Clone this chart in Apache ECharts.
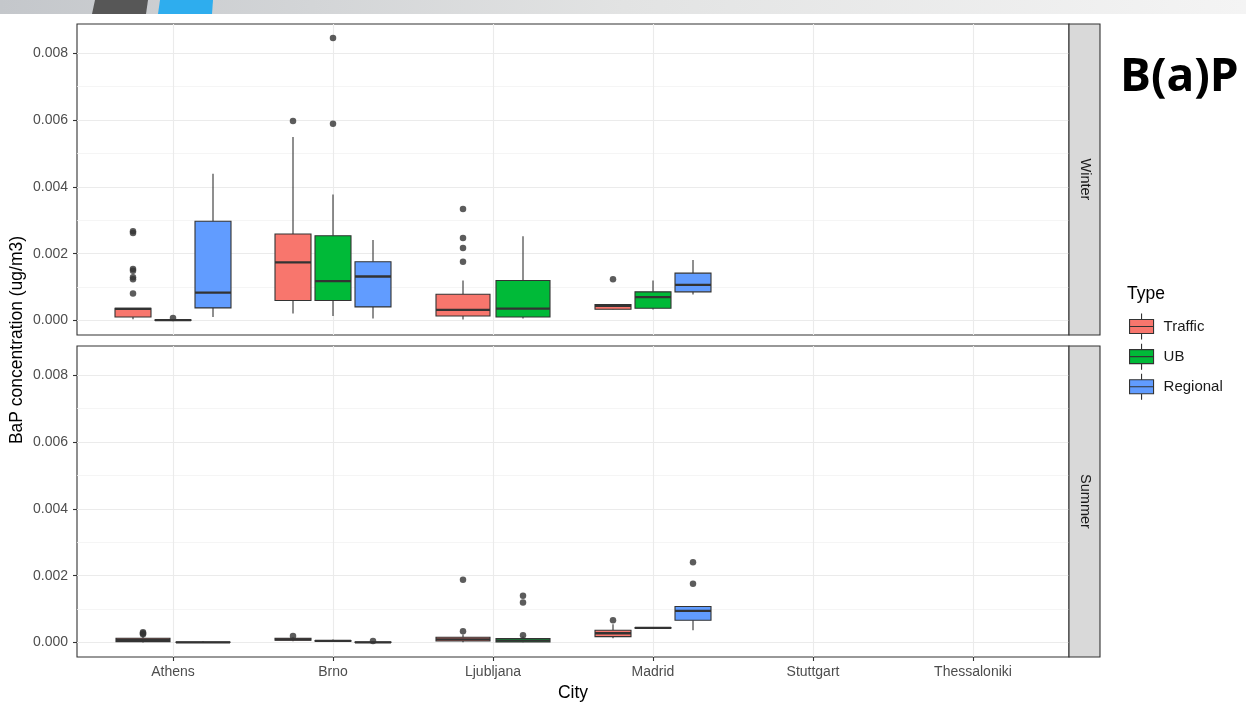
<!DOCTYPE html>
<html>
<head>
<meta charset="utf-8">
<script src="https://cdn.jsdelivr.net/npm/echarts@6/dist/echarts.min.js"></script>
<style>
html,body{margin:0;padding:0;background:#fff;}
#chart{width:1246px;height:708px;}
</style>
</head>
<body>
<div id="chart"></div>
<script>
// ---------------- data ----------------
const cities = ['Athens', 'Brno', 'Ljubljana', 'Madrid', 'Stuttgart', 'Thessaloniki'];
const types = ['Traffic', 'UB', 'Regional'];
const seasons = ['Winter', 'Summer'];
const yTicks = [0, 0.002, 0.004, 0.006, 0.008];
const yMinorTicks = [0.001, 0.003, 0.005, 0.007];

// [city, type, lower whisker, Q1, median, Q3, upper whisker]
const winterBoxes = [
  ['Athens', 'Traffic', 0.00004, 0.00011, 0.00035, 0.00037, 0.00038],
  ['Athens', 'UB', 0.000002, 0.000008, 0.000015, 0.000025, 0.00004],
  ['Athens', 'Regional', 0.00011, 0.00038, 0.00084, 0.00297, 0.00439],
  ['Brno', 'Traffic', 0.00021, 0.0006, 0.00174, 0.00259, 0.00549],
  ['Brno', 'UB', 0.00014, 0.0006, 0.00118, 0.00254, 0.00377],
  ['Brno', 'Regional', 0.00006, 0.00041, 0.00132, 0.00176, 0.00241],
  ['Ljubljana', 'Traffic', 0.00003, 0.00014, 0.00032, 0.00079, 0.0012],
  ['Ljubljana', 'UB', 0.00006, 0.00011, 0.00036, 0.0012, 0.00252],
  ['Madrid', 'Traffic', 0.00033, 0.00034, 0.00044, 0.00048, 0.00049],
  ['Madrid', 'UB', 0.00033, 0.00037, 0.0007, 0.00086, 0.0012],
  ['Madrid', 'Regional', 0.00078, 0.00086, 0.00107, 0.00142, 0.00181]
];
// [city, type, value]
const winterOutliers = [
  ['Athens', 'Traffic', 0.00267], ['Athens', 'Traffic', 0.00262],
  ['Athens', 'Traffic', 0.00154], ['Athens', 'Traffic', 0.00149],
  ['Athens', 'Traffic', 0.00130], ['Athens', 'Traffic', 0.00124],
  ['Athens', 'Traffic', 0.00081],
  ['Athens', 'UB', 0.00008],
  ['Brno', 'Traffic', 0.00597],
  ['Brno', 'UB', 0.00845], ['Brno', 'UB', 0.00589],
  ['Ljubljana', 'Traffic', 0.00334], ['Ljubljana', 'Traffic', 0.00247],
  ['Ljubljana', 'Traffic', 0.00217], ['Ljubljana', 'Traffic', 0.00176],
  ['Madrid', 'Traffic', 0.00124]
];
const summerBoxes = [
  ['Athens', 'Traffic', 0.000005, 0.00003, 0.00008, 0.00013, 0.00022],
  ['Athens', 'UB', 0.0, 0.000005, 0.00001, 0.00002, 0.00004],
  ['Brno', 'Traffic', 0.00004, 0.00007, 0.0001, 0.00013, 0.00016],
  ['Brno', 'UB', 0.00002, 0.00004, 0.00005, 0.00006, 0.00009],
  ['Brno', 'Regional', 0.0, 0.000005, 0.00001, 0.00002, 0.00003],
  ['Ljubljana', 'Traffic', 0.00001, 0.00005, 0.0001, 0.00016, 0.00024],
  ['Ljubljana', 'UB', 0.00001, 0.00002, 0.00006, 0.00012, 0.00018],
  ['Madrid', 'Traffic', 0.00013, 0.00018, 0.00028, 0.00037, 0.00055],
  ['Madrid', 'UB', 0.00042, 0.00043, 0.00044, 0.00045, 0.00046],
  ['Madrid', 'Regional', 0.00037, 0.00067, 0.00095, 0.00108, 0.00109]
];
const summerOutliers = [
  ['Athens', 'Traffic', 0.00025], ['Athens', 'Traffic', 0.00028], ['Athens', 'Traffic', 0.00031],
  ['Brno', 'Traffic', 0.0002],
  ['Brno', 'Regional', 0.00005],
  ['Ljubljana', 'Traffic', 0.00188], ['Ljubljana', 'Traffic', 0.00034],
  ['Ljubljana', 'UB', 0.0014], ['Ljubljana', 'UB', 0.0012], ['Ljubljana', 'UB', 0.00022],
  ['Madrid', 'Traffic', 0.00067],
  ['Madrid', 'Regional', 0.0024], ['Madrid', 'Regional', 0.00176]
];

// ---------------- styles ----------------
const typeColors = { Traffic: '#F8766D', UB: '#00BA38', Regional: '#619CFF' };
const FONT = 'Liberation Sans, Arial, sans-serif';
const DODGE = 0.75;      // ggplot dodge width
const PAD = 0.9;         // dodge2 padding (1 - 0.1)

// dodge positions computed from data (ggplot position_dodge2 logic)
function dodgeMap(boxes) {
  const map = {};
  cities.forEach(function (c, ci) {
    const present = types.filter(function (t) {
      return boxes.some(function (b) { return b[0] === c && b[1] === t; });
    });
    const n = present.length;
    present.forEach(function (t, i) {
      const slot = DODGE / n;
      map[c + '|' + t] = { x: ci + 1 - DODGE / 2 + slot * (i + 0.5), hw: slot * PAD / 2 };
    });
  });
  return map;
}

const panels = [
  { boxes: winterBoxes, outliers: winterOutliers },
  { boxes: summerBoxes, outliers: summerOutliers }
];

const gridTop = [24, 346];
const gridH = 311;
const gridLeft = 77;
const gridW = 992;
const Y_MIN = -0.00043, Y_MAX = 0.00887;

const grids = [], xAxes = [], yAxes = [], series = [];

function renderBox(params, api) {
  const x = api.value(0), lo = api.value(1), q1 = api.value(2), med = api.value(3),
        q3 = api.value(4), hi = api.value(5), hw = api.value(6);
  const pTop = api.coord([x, hi]), pQ3 = api.coord([x, q3]), pQ1 = api.coord([x, q1]), pLo = api.coord([x, lo]);
  const pL = api.coord([x - hw, q3]), pR = api.coord([x + hw, q1]);
  const mL = api.coord([x - hw, med]), mR = api.coord([x + hw, med]);
  const stroke = '#333333';
  return {
    type: 'group',
    children: [
      { type: 'line', shape: { x1: pQ3[0], y1: pQ3[1], x2: pTop[0], y2: pTop[1] }, style: { stroke: stroke, lineWidth: 1.1 } },
      { type: 'line', shape: { x1: pQ1[0], y1: pQ1[1], x2: pLo[0], y2: pLo[1] }, style: { stroke: stroke, lineWidth: 1.1 } },
      { type: 'rect', shape: { x: pL[0], y: pL[1], width: pR[0] - pL[0], height: pR[1] - pL[1] },
        style: { fill: api.visual('color'), stroke: stroke, lineWidth: 1.1 } },
      { type: 'line', shape: { x1: mL[0], y1: mL[1], x2: mR[0], y2: mR[1] }, style: { stroke: stroke, lineWidth: 2.3 } }
    ]
  };
}

panels.forEach(function (p, g) {
  const dm = dodgeMap(p.boxes);
  grids.push({
    left: gridLeft, top: gridTop[g], width: gridW, height: gridH,
    show: true, backgroundColor: '#ffffff', borderColor: '#333333', borderWidth: 1.1
  });
  xAxes.push({
    type: 'value', gridIndex: g, min: 0.4, max: 6.6, position: 'bottom',
    axisLine: { show: false, onZero: false },
    axisTick: { show: g === 1, length: 4, customValues: [1, 2, 3, 4, 5, 6], lineStyle: { color: '#333333', width: 1.1 } },
    axisLabel: {
      show: g === 1, customValues: [1, 2, 3, 4, 5, 6], margin: 8,
      formatter: function (v) { return cities[Math.round(v) - 1]; },
      color: '#4D4D4D', fontSize: 14, fontFamily: FONT
    },
    splitLine: { show: true, lineStyle: { color: '#EBEBEB', width: 1.1 } },
    name: g === 1 ? 'City' : '', nameLocation: 'middle', nameGap: 27,
    nameTextStyle: { color: '#000000', fontSize: 17.5, fontFamily: FONT }
  });
  // main y axis
  yAxes.push({
    type: 'value', gridIndex: g, min: Y_MIN, max: Y_MAX, position: 'left',
    axisLine: { show: false, onZero: false },
    axisTick: { show: true, length: 4, customValues: yTicks, lineStyle: { color: '#333333', width: 1.1 } },
    axisLabel: {
      customValues: yTicks, margin: 9,
      formatter: function (v) { return v.toFixed(3); },
      color: '#4D4D4D', fontSize: 14, fontFamily: FONT
    },
    splitLine: { show: true, lineStyle: { color: '#EBEBEB', width: 1.1 } }
  });
  // minor grid axis
  yAxes.push({
    type: 'value', gridIndex: g, min: Y_MIN, max: Y_MAX, position: 'left',
    axisLine: { show: false, onZero: false },
    axisTick: { show: false, customValues: yMinorTicks },
    axisLabel: { show: false, customValues: yMinorTicks },
    splitLine: { show: true, lineStyle: { color: '#F3F3F3', width: 0.8 } }
  });

  types.forEach(function (t) {
    const data = p.boxes.filter(function (b) { return b[1] === t; }).map(function (b) {
      const d = dm[b[0] + '|' + b[1]];
      return [d.x, b[2], b[3], b[4], b[5], b[6], d.hw];
    });
    series.push({
      type: 'custom', name: t, xAxisIndex: g, yAxisIndex: g * 2,
      color: typeColors[t],
      itemStyle: { color: typeColors[t] },
      renderItem: renderBox,
      encode: { x: 0, y: [1, 2, 3, 4, 5] },
      data: data, z: 3, silent: true
    });
  });
  series.push({
    type: 'scatter', name: 'outliers' + g, xAxisIndex: g, yAxisIndex: g * 2,
    symbolSize: 6.5, itemStyle: { color: '#333333' }, z: 4, silent: true,
    data: p.outliers.map(function (o) { const d = dm[o[0] + '|' + o[1]]; return [d.x, o[2]]; })
  });
});

const strips = [];
seasons.forEach(function (s, g) {
  strips.push({
    type: 'rect', shape: { x: gridLeft + gridW, y: gridTop[g], width: 31, height: gridH },
    style: { fill: '#D9D9D9', stroke: '#333333', lineWidth: 1.1 }, z: 10
  });
  strips.push({
    type: 'text', x: gridLeft + gridW + 15.5, y: gridTop[g] + gridH / 2, rotation: -Math.PI / 2,
    style: { text: s, fill: '#1A1A1A', font: '14.5px ' + FONT, textAlign: 'center', textVerticalAlign: 'middle' }, z: 11
  });
});

const option = {
  backgroundColor: '#ffffff',
  animation: false,
  title: [
    { text: 'B(a)P', left: 1120, top: 55, padding: 0, textStyle: { fontSize: 46, fontWeight: 'bold', color: '#000000', fontFamily: 'Open Sans' } },
    { text: 'Type', left: 1127, top: 285, padding: 0, textStyle: { fontSize: 17.5, fontWeight: 'normal', color: '#000000', fontFamily: FONT } }
  ],
  legend: {
    data: types, orient: 'vertical', left: 1129, top: 313, padding: 0,
    itemWidth: 24, itemHeight: 26, itemGap: 3, selectedMode: false,
    icon: 'path://M0,6L24,6L24,20L0,20Z M0,13L24,13 M12,0L12,6 M12,20L12,26',
    itemStyle: { borderColor: '#333333', borderWidth: 1.1 },
    textStyle: { fontSize: 15, color: '#1A1A1A', fontFamily: FONT, padding: [0, 0, 0, 5] }
  },
  grid: grids,
  xAxis: xAxes,
  yAxis: yAxes,
  series: series,
  graphic: [
    { type: 'rect', shape: { x: 0, y: 0, width: 1246, height: 14 },
      style: { fill: new echarts.graphic.LinearGradient(0, 0, 1, 0, [
        { offset: 0, color: '#C4C7CB' }, { offset: 0.5, color: '#E2E3E3' }, { offset: 1, color: '#F4F4F4' }]) } },
    { type: 'polygon', shape: { points: [[95, 0], [148, 0], [146, 14], [92, 14]] }, style: { fill: '#575757' } },
    { type: 'polygon', shape: { points: [[160, 0], [213, 0], [212, 14], [158, 14]] }, style: { fill: '#2EADEE' } },
    { type: 'text', x: 17, y: 340, rotation: Math.PI / 2,
      style: { text: 'BaP concentration (ug/m3)', fill: '#000000', font: '17.5px ' + FONT, textAlign: 'center', textVerticalAlign: 'middle' } }
  ].concat(strips)
};

const chart = echarts.init(document.getElementById('chart'), null, { renderer: 'canvas' });
chart.setOption(option);
</script>
</body>
</html>
